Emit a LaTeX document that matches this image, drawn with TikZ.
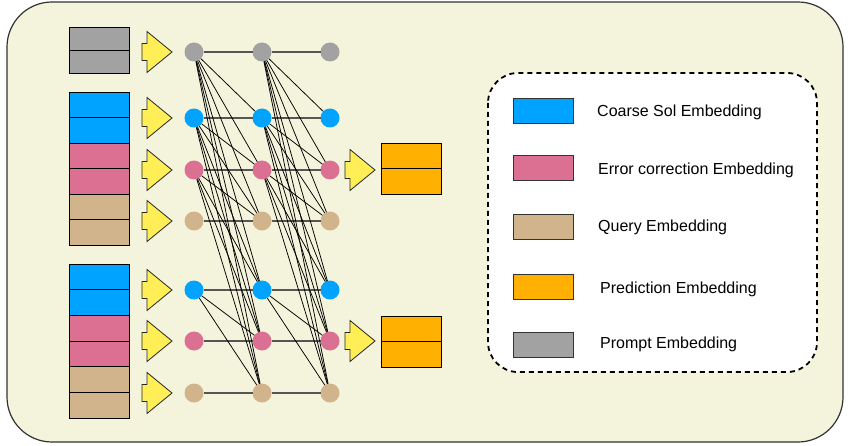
\documentclass[tikz,border=0pt]{standalone}
\usepackage{fontspec}
\setmainfont{Liberation Sans}
\definecolor{bg}{HTML}{F4F4DC}
\definecolor{cgray}{HTML}{A2A2A2}
\definecolor{cblue}{HTML}{00A3FF}
\definecolor{cpink}{HTML}{DB7093}
\definecolor{ctan}{HTML}{D2B48C}
\definecolor{corange}{HTML}{FFB000}
\definecolor{cyel}{HTML}{FFEE55}
\definecolor{hline}{HTML}{555555}
\begin{document}
\begin{tikzpicture}[x=1pt,y=-1pt,
  half/.style={draw=black, line width=0.9pt, minimum width=60pt, minimum height=#1, inner sep=0pt, outer sep=0pt},
  dot/.style={circle, fill=#1, minimum size=19pt, inner sep=0pt, outer sep=0pt},
  swatch/.style={draw=black!80, line width=0.9pt, fill=#1, minimum width=60pt, minimum height=25pt, inner sep=0pt},
  lbl/.style={anchor=base west, inner sep=0pt, font=\fontsize{16}{19}\selectfont},
  hedge/.style={draw=hline, line width=1.3pt},
  dedge/.style={draw=black, line width=0.75pt},
  pics/yarr/.style={code={\draw[fill=cyel, line width=0.8pt, draw=black!85, line join=miter] (0,-20.5) -- (25,0) -- (0,20.5) -- (0,8.5) -- (-5,8.5) -- (-5,-8.5) -- (0,-8.5) -- cycle;}}
]
\useasboundingbox (0,0) rectangle (850,446);
\fill[bg, draw=black!80, line width=1.2pt, rounded corners=45pt] (7,2) rectangle (843,442);

% input blocks
\node[half=23pt, fill=cgray] (g1) at (99,38.5) {};
\node[half=23pt, fill=cgray] (g2) at (99,61.5) {};
\foreach \i/\y/\col in {1/104.75/cblue,2/130.25/cblue,3/155.75/cpink,4/181.25/cpink,5/206.75/ctan,6/232.25/ctan}
  \node[half=25.5pt, fill=\col] (p\i) at (99,\y) {};
\foreach \i/\y/\col in {1/276.8/cblue,2/302.5/cblue,3/328.2/cpink,4/353.8/cpink,5/379.5/ctan,6/405.2/ctan}
  \node[half=25.67pt, fill=\col] (q\i) at (99,\y) {};

% output blocks
\node[half=25.5pt, fill=corange] (o1) at (411,155.75) {};
\node[half=25.5pt, fill=corange] (o2) at (411,181.25) {};
\node[half=25.5pt, fill=corange] (o3) at (411,328.75) {};
\node[half=25.5pt, fill=corange] (o4) at (411,354.25) {};

% yellow arrows
\foreach \y in {52,118,170,221,290,341,393}
  \pic at (147,\y) {yarr};
\pic at (350,170) {yarr};
\pic at (350,341) {yarr};

% network nodes
\foreach \c/\x in {a/194,b/262,c/330}{
  \foreach \r/\y/\col in {0/52/cgray,1/118/cblue,2/170/cpink,3/221/ctan,4/290/cblue,5/341/cpink,6/393/ctan}
    \node[dot=\col] (\c\r) at (\x,\y) {};
}
% horizontal connections
\foreach \r in {0,...,6}{
  \draw[hedge] (a\r) -- (b\r);
  \draw[hedge] (b\r) -- (c\r);
}
% diagonal connections
\foreach \s/\t in {0/1,0/2,0/3,0/4,0/5,0/6,1/2,1/3,1/4,1/5,1/6,2/3,2/4,2/5,2/6,4/5,4/6}{
  \draw[dedge] (a\s) -- (b\t);
  \draw[dedge] (b\s) -- (c\t);
}

% legend
\draw[fill=white, line width=1.8pt, dash pattern=on 5pt off 4pt, rounded corners=30pt] (488,73) rectangle (817,372);
\node[swatch=cblue] (l1) at (543,110.5) {};
\node[swatch=cpink] (l2) at (543,167.5) {};
\node[swatch=ctan] (l3) at (543,227) {};
\node[swatch=corange] (l4) at (543,286.5) {};
\node[swatch=cgray] (l5) at (543,344.5) {};
\node[lbl] (t1) at (597,116.7) {Coarse Sol Embedding};
\node[lbl] (t2) at (598,175) {Error correction Embedding};
\node[lbl] (t3) at (598,232) {Query Embedding};
\node[lbl] (t4) at (600,293) {Prediction Embedding};
\node[lbl] (t5) at (600,348.5) {Prompt Embedding};
\end{tikzpicture}
\end{document}
